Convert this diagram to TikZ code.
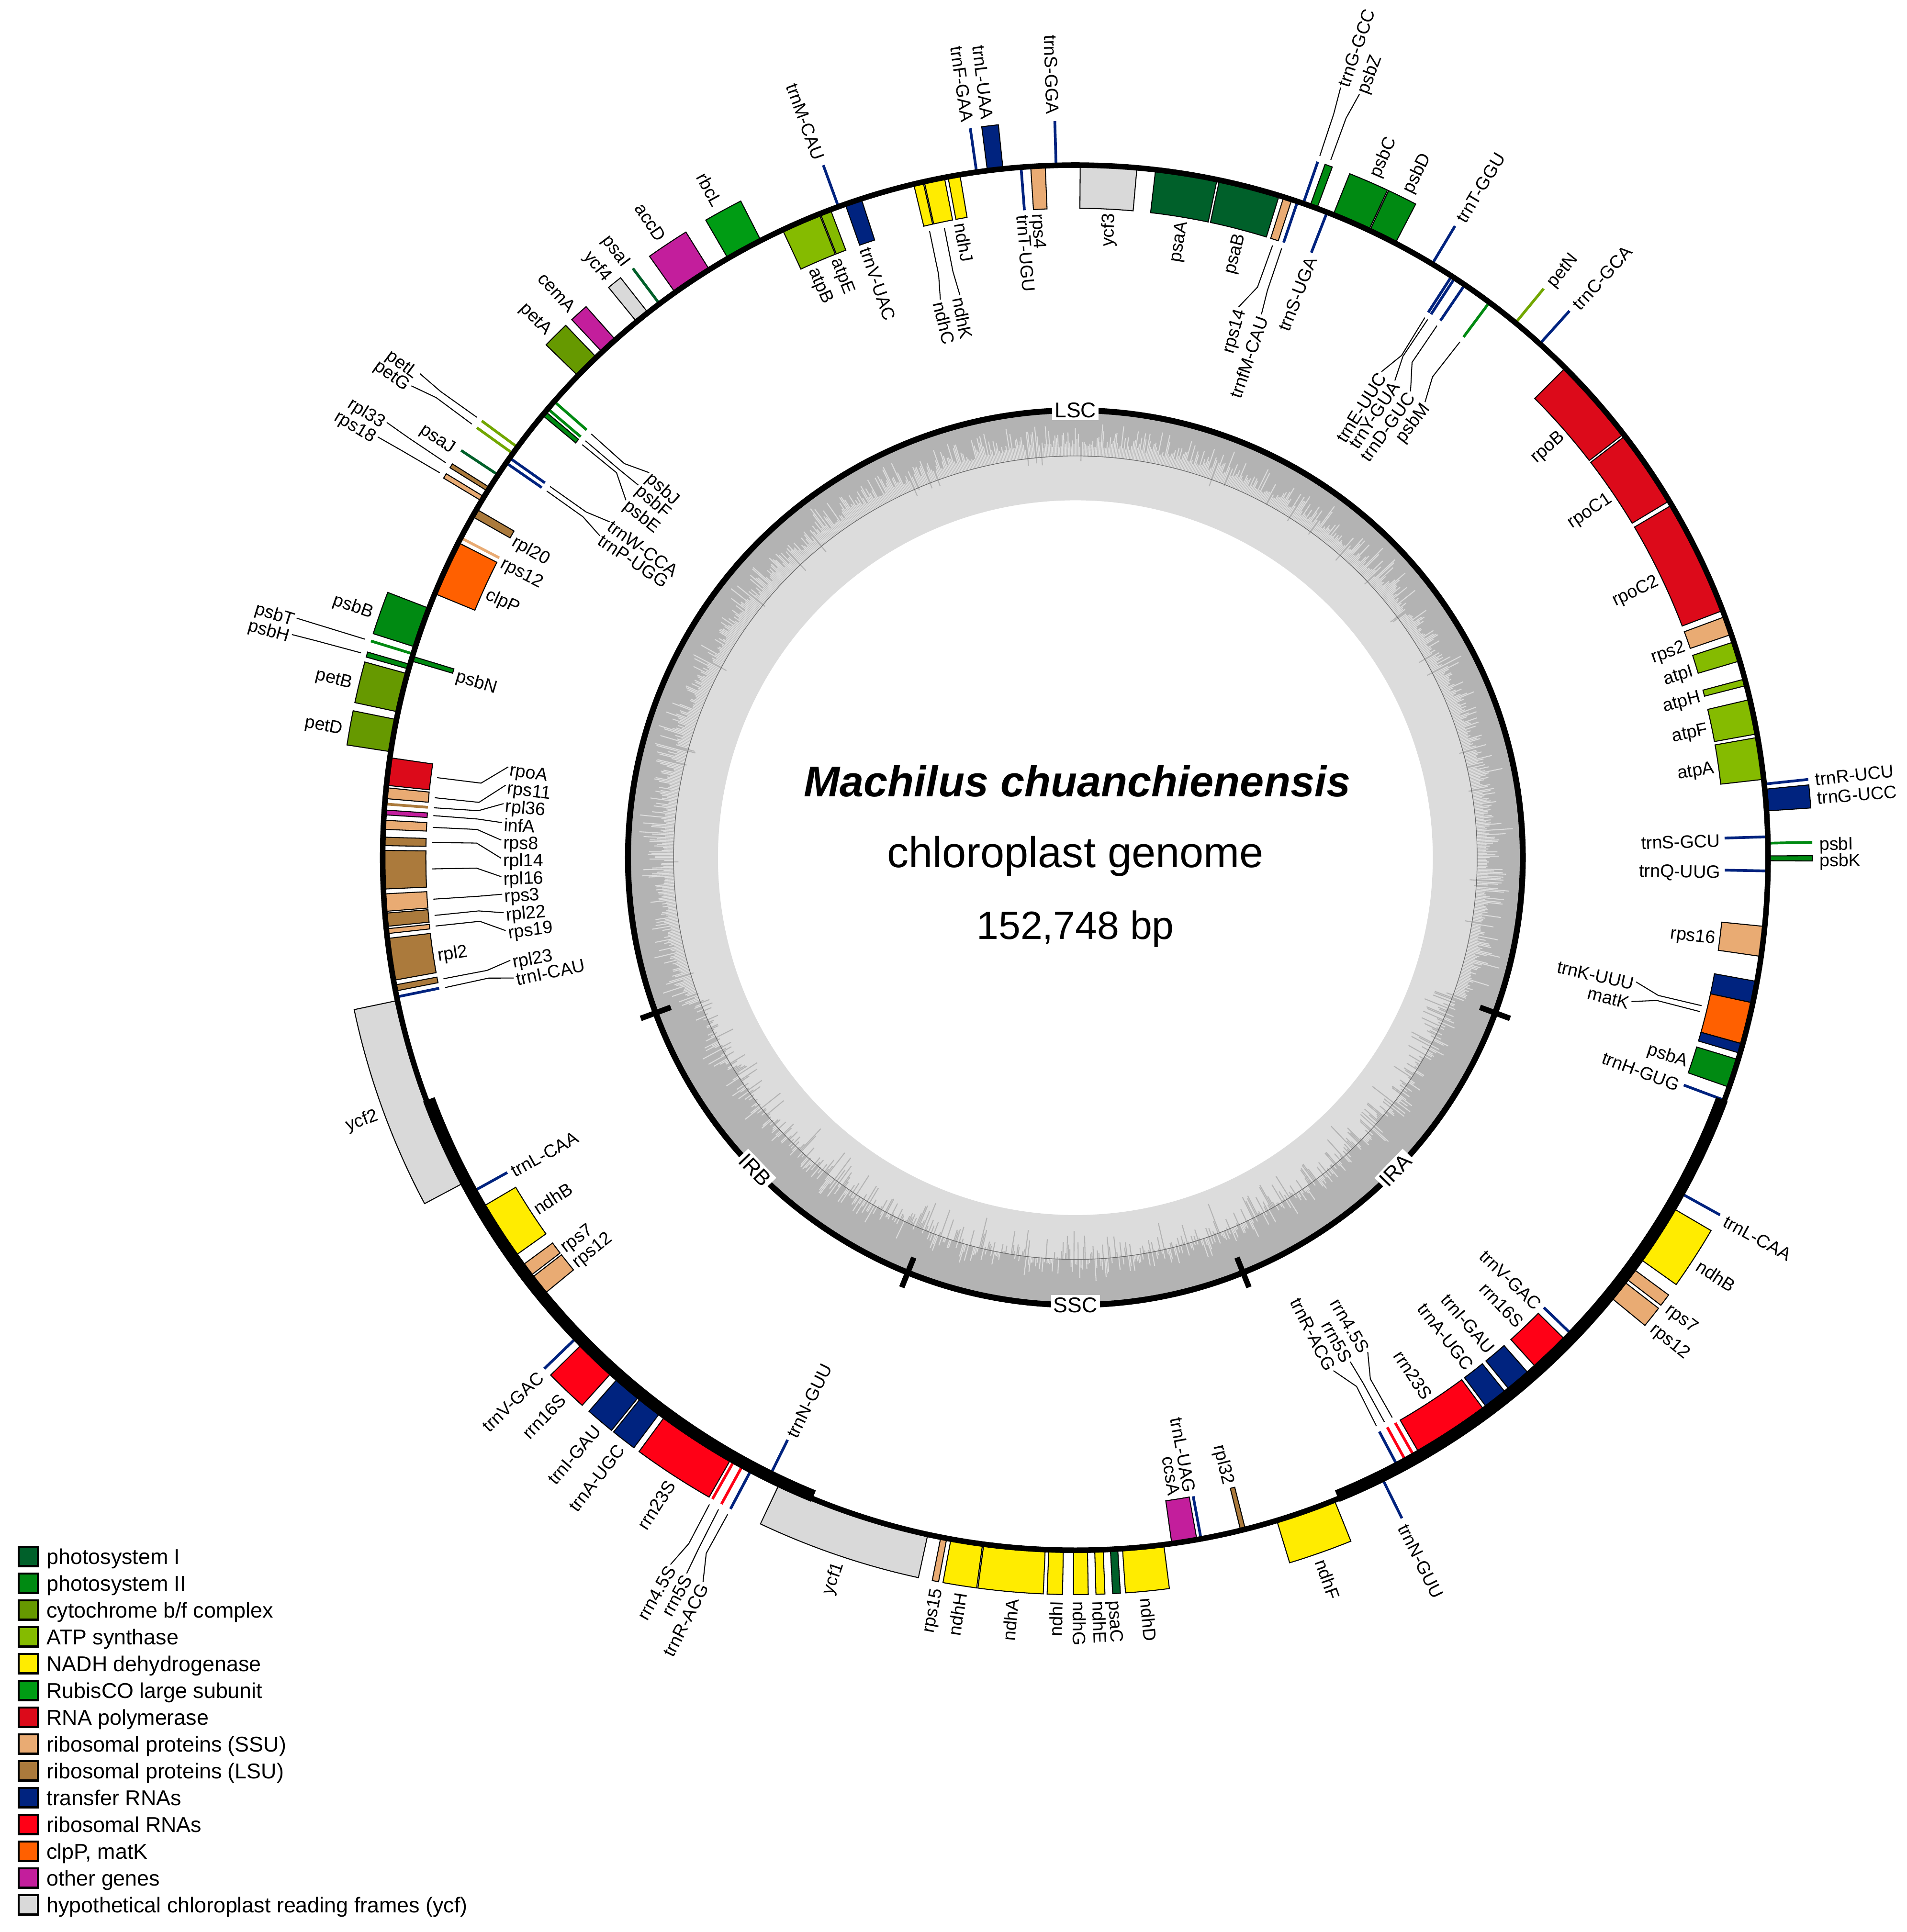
\documentclass[tikz,border=0pt]{standalone}
\usepackage{fontspec}
\setmainfont{Liberation Sans}
\usetikzlibrary{positioning}
\definecolor{psone}{HTML}{00602A}
\definecolor{pstwo}{HTML}{008A12}
\definecolor{cytbf}{HTML}{669900}
\definecolor{atps}{HTML}{85BB00}
\definecolor{ndh}{HTML}{FFEC00}
\definecolor{rbc}{HTML}{009C14}
\definecolor{rpo}{HTML}{DC0A1A}
\definecolor{ssu}{HTML}{E9AB73}
\definecolor{lsu}{HTML}{AB7A3C}
\definecolor{trna}{HTML}{00237F}
\definecolor{rrna}{HTML}{FF0016}
\definecolor{clp}{HTML}{FF6000}
\definecolor{other}{HTML}{C31E9C}
\definecolor{ycf}{HTML}{D9D9D9}
\definecolor{gcdark}{HTML}{B3B3B3}
\definecolor{gclight}{HTML}{DCDCDC}
\tikzset{
  genebox/.style={draw=black,line width=0.8pt,line join=miter},
  geneline/.style={line width=2.2pt},
  genelab/.style={font=\fontsize{14.6}{17}\selectfont,inner sep=1.5pt,text height=13.5pt,text depth=0pt},
  leaderline/.style={draw=black,line width=0.8pt},
  regionlab/.style={font=\fontsize{17.3}{20}\selectfont,fill=white,inner sep=2pt},
  regiontick/.style={line width=4.5pt},
  swatch/.style={draw=black,line width=1.7pt,minimum size=15.7pt,inner sep=0pt},
  legendlab/.style={font=\fontsize{17.4}{20}\selectfont,inner sep=0pt,text height=12.4pt,text depth=0pt}
}
\newcommand{\genearc}[4]{%
  \filldraw[genebox,fill=#4] (#1:562) arc[start angle=#1,end angle=#2,radius=562]
    -- (#2:#3) arc[start angle=#2,end angle=#1,radius=#3] -- cycle;}
\newcommand{\genelabel}[4]{%
  \pgfmathsetmacro{\genrot}{cos(#2)>0 ? #2 : #2+180}
  \pgfmathtruncatemacro{\genside}{(cos(#2)>0)==(#3>563)}
  \ifnum\genside=1 \def\labanc{west}\else\def\labanc{east}\fi
  \node[genelab,rotate=\genrot,anchor=\labanc] (#1) at (#2:#3) {#4};}
\begin{document}
\begin{tikzpicture}[x=1pt,y=1pt]
  \useasboundingbox (-872.5,696) rectangle (674.7,-871.8);
  \fill[white] (-872.5,696) rectangle (674.7,-871.8);
  \fill[gcdark,even odd rule] (0,0) circle[radius=363] (0,0) circle[radius=326];
  \fill[gclight,even odd rule] (0,0) circle[radius=326] (0,0) circle[radius=290];
  \pgfmathsetseed{41}
  \foreach \i in {0,...,1799}{
    \pgfmathsetmacro{\a}{\i*0.2}
    \pgfmathsetmacro{\u}{rnd}
    \pgfmathsetmacro{\v}{rnd}
    \pgfmathsetmacro{\w}{rnd}
    \pgfmathsetmacro{\s}{(\a>200 && \a<340) ? (\w<0.45 ? 3+\u*\v*16 : -\u*\v*28) : (\w<0.03 ? -\u*7 : 7+\u*\v*24)}
    \ifdim\s pt>0pt
      \draw[gclight,line width=0.8pt] (\a:326) -- (\a:326+\s);
    \else
      \draw[gcdark,line width=0.8pt] (\a:326) -- (\a:326+\s);
    \fi
  }
  \draw[black!60,line width=0.5pt] (0,0) circle[radius=326];
  \draw[line width=4.8pt] (0,0) circle[radius=363];
  \foreach \a in {-20.3,-68,200.3,248}{
    \draw[regiontick] (\a:350) -- (\a:376);
  }
  \node[regionlab] (lsc) at (90:363) {LSC};
  \node[regionlab] (ssc) at (-90:363) {SSC};
  \node[regionlab,rotate=46] (ira) at (-44.3:363) {IRA};
  \node[regionlab,rotate=-46] (irb) at (224.3:363) {IRB};

  \node[font=\fontsize{35}{40}\selectfont\bfseries\itshape] (species) at (1.5,62) {Machilus chuanchienensis};
  \node[font=\fontsize{35}{40}\selectfont] (genome) at (0,1) {chloroplast genome};
  \node[font=\fontsize{32}{38}\selectfont] (length) at (0,-58) {152,748 bp};

  % genes outside the ring
  \foreach \a/\b/\c in {96.0/97.3/trna,69.6/70.2/pstwo,64.95/68.15/pstwo,62.5/64.85/pstwo,
    3.87/5.67/trna,-0.25/0.15/pstwo,-35.4/-30.4/ndh,-37.4/-36.4/ssu,-39.4/-37.7/ssu,
    -73.1/-68.05/ndh,-86.1/-82.67/ndh,-87.1/-86.5/psone,-88.4/-87.7/ndh,-90.15/-89.0/ndh,
    -92.2/-91.0/ndh,-97.6/-92.5/ndh,-100.35/-97.7/ndh,-101.2/-100.7/ssu,-115.3/-102.3/ycf,
    233.7/240.2/rrna,231.2/233.2/trna,228.7/231.0/trna,224.6/228.0/rrna,191.9/208.0/ycf,
    163.8/164.2/pstwo,164.6/167.85/cytbf,168.5/171.2/cytbf,158.9/162.3/pstwo,
    147.7/148.05/lsu,148.6/149.0/ssu,133.75/135.9/cytbf,131.6/133.1/other,128.1/129.3/ycf,
    121.9/125.3/other,117.0/120.1/rbc}{
    \genearc{\a}{\b}{598}{\c}
  }
  \foreach \a/\c in {98.2/trna,91.6/trna,70.8/trna,59/trna,50.55/cytbf!60!atps,47.9/trna,
    6.1/trna,1.2/pstwo,-29/trna,-63.7/trna,223.9/trna,240.5/rrna,241.3/rrna,242.1/trna,
    162.9/pstwo,146.45/psone,144.3/cytbf!60!atps,143.65/cytbf!60!atps,126.9/psone,110/trna}{
    \draw[geneline,\c] (\a:562) -- (\a:598);
  }

  % genes inside the ring
  \foreach \a/\b/\c in {102.7/103.5/ndh,100.9/102.6/ndh,99.6/100.6/ndh,92.5/93.7/ssu,
    84.9/89.6/ycf,78.2/83.35/psone,72.9/78.0/psone,71.8/72.5/ssu,37.7/45.0/rpo,31.0/37.5/rpo,
    20.9/30.6/rpo,18.8/20.36/ssu,16.5/18.15/atps,14.4/14.95/atps,10.3/13.2/atps,6.5/10.0/atps,
    -8.2/-5.7/ssu,-12.1/-10.3/trna,-15.6/-12.1/clp,-16.4/-15.6/trna,-19.35/-16.95/pstwo,
    -47.9/-44.55/rrna,-50.8/-48.7/trna,-53.2/-51.2/trna,-60.0/-53.5/rrna,-76.2/-75.8/lsu,
    -82.0/-79.9/other,210.5/215.4/ndh,216.4/217.5/ssu,217.7/219.4/ssu,190.6/191.1/lsu,
    186.7/190.2/lsu,185.9/186.3/ssu,184.6/185.7/lsu,183.0/184.45/ssu,179.4/182.6/lsu,
    178.3/179.0/lsu,176.9/177.65/ssu,176.05/176.45/other,174.2/175.1/ssu,171.7/174.0/rpo,
    152.95/157.6/clp,149.8/150.5/lsu,139.9/140.3/pstwo,163.1/163.5/pstwo,111.7/115/atps,
    110.7/111.6/atps,108.0/109.4/trna}{
    \genearc{\a}{\b}{527}{\c}
  }
  \foreach \a/\c in {94.5/trna,71.3/trna,68.7/trna,57.1/trna,56.8/trna,55.8/trna,53.3/pstwo,
    1.73/trna,-1.1/trna,-20.5/trna,-43.85/trna,-60.5/rrna,-61.3/rrna,-62.1/trna,
    -79.55/trna,243.7/trna,209/trna,191.6/trna,175.55/lsu,152.5/ssu,145.25/trna,144.75/trna,
    139.6/pstwo,138.8/pstwo}{
    \draw[geneline,\c] (\a:562) -- (\a:527);
  }

  \draw[line width=4.5pt] (0,0) circle[radius=562];
  \draw[line width=10pt] (-20.5:560) arc[start angle=-20.5,end angle=-67.7,radius=560];
  \draw[line width=10pt] (200.5:560) arc[start angle=200.5,end angle=247.7,radius=560];

  % labels next to their gene
  \foreach \t/\a [count=\i] in {trnF-GAA/98.2,trnL-UAA/96.65,trnS-GGA/91.6,psbC/66.5,psbD/63.7,
    trnT-GGU/59,petN/50.55,trnC-GCA/47.9,trnR-UCU/6.2,trnG-UCC/4.75,psbI/1.2,psbK/-0.05,
    trnL-CAA/-29,ndhB/-33,rps7/-37,rps12/-38.9,trnN-GUU/-63.7,ndhF/-70.6,ndhD/-84.4,
    psaC/-86.8,ndhE/-88.05,ndhG/-89.55,ndhI/-91.6,ndhA/-95,ndhH/-99,rps15/-100.95,ycf1/-108.8,
    rrn23S/236.95,trnA-UGC/232.2,trnI-GAU/229.85,rrn16S/226.3,trnV-GAC/223.9,ycf2/200,
    petD/169.8,petB/166.2,psbB/160.6,psaJ/146.45,petA/134.8,cemA/132.35,ycf4/128.7,psaI/126.9,
    accD/123.6,rbcL/118.55,trnM-CAU/110}{
    \genelabel{out\i}{\a}{602}{\t}
  }
  \foreach \t/\a [count=\i] in {ndhJ/100.1,trnT-UGU/94.5,rps4/93.1,ycf3/87.25,psaA/80.75,psaB/75.5,
    trnS-UGA/68.7,rpoB/41.3,rpoC1/34.3,rpoC2/25.75,rps2/19.4,atpI/17.1,atpH/14.7,atpF/11.75,
    atpA/8.25,trnS-GCU/1.7,trnQ-UUG/-1.1,rps16/-6.95,psbA/-18.2,trnH-GUG/-20.5,trnV-GAC/-43.95,
    rrn16S/-46.2,trnI-GAU/-49.7,trnA-UGC/-52.1,rrn23S/-56.7,rpl32/-76,trnL-UAG/-79.6,ccsA/-81,
    trnL-CAA/209,ndhB/212.95,rps7/217.1,rps12/218.8,trnN-GUU/243.7,rpl2/188.5,rpl20/150.3,
    rps12/152.5,clpP/155.6,psbN/163.4,atpB/113.7,atpE/111.5,trnV-UAC/108.8}{
    \genelabel{inn\i}{\a}{525}{\t}
  }

  % labels moved away from their gene
  \foreach \t/\a/\g/\e [count=\i] in {ndhC/103.6/103.1/103.2,ndhK/101.6/101.75/101.8,
    rps14/73.5/72.15/72.3,trnfM-CAU/71.1/71.3/71.3,trnE-UUC/57.8/57.1/57.0,trnY-GUA/56.2/56.8/56.85,
    trnD-GUC/54.3/55.8/55.8,psbM/52.5/53.3/53.4,trnK-UUU/-12.5/-13.3/-13.3,matK/-14.5/-13.85/-13.8,
    rrn4.5S/-59.4/-60.5/-60.5,rrn5S/-61.4/-61.3/-61.3,trnR-ACG/-63.3/-62.1/-62,
    rpoA/170.9/172.85/172.85,rps11/172.75/174.65/174.7,rpl36/174.6/175.55/175.5,infA/176.5/176.25/176.3,
    rps8/178.25/177.3/177.3,rpl14/180.05/178.65/178.6,rpl16/181.9/181/181,rps3/183.65/183.7/183.7,
    rpl22/185.5/185.15/185.1,rps19/187.3/186.1/186.1,rpl23/190.3/190.85/190.85,trnI-CAU/192.1/191.65/191.6,
    psbJ/137.9/138.8/138.85,psbF/139.55/139.6/139.6,psbE/141.5/140.05/140,trnW-CCA/144.2/144.75/144.75,
    trnP-UGG/145.9/145.25/145.3}{
    \genelabel{inl\i}{\a}{466}{\t}
    \coordinate (ing\i) at (\g:522);
    \coordinate (ine\i) at (\e:486);
    \draw[leaderline] (ing\i) -- (ine\i) -- (inl\i.\labanc);
  }
  \foreach \t/\a/\g/\e [count=\i] in {trnG-GCC/71/70.8/70.85,psbZ/69.6/69.9/69.9,
    rrn4.5S/240.2/240.5/240.6,rrn5S/241.5/241.3/241.4,trnR-ACG/242.8/242.1/242.05,
    petL/143.55/143.65/143.7,petG/144.6/144.3/144.25,rpl33/147.7/147.9/147.8,
    rps18/148.9/148.8/148.85,psbT/162.9/162.9/162.9,psbH/164.1/164.0/164.05}{
    \genelabel{oul\i}{\a}{661}{\t}
    \coordinate (oug\i) at (\g:603);
    \coordinate (oue\i) at (\e:639);
    \draw[leaderline] (oug\i) -- (oue\i) -- (oul\i.\labanc);
  }

  \foreach \c/\t [count=\i] in {psone/photosystem I,pstwo/photosystem II,cytbf/{cytochrome b/f complex},
    atps/ATP synthase,ndh/NADH dehydrogenase,rbc/RubisCO large subunit,rpo/RNA polymerase,
    ssu/ribosomal proteins (SSU),lsu/ribosomal proteins (LSU),trna/transfer RNAs,rrna/ribosomal RNAs,
    clp/{clpP, matK},other/other genes,ycf/hypothetical chloroplast reading frames (ycf)}{
    \node[swatch,fill=\c] (sw\i) at (-849.5,{-545.25-21.75*\i}) {};
    \node[legendlab,right=6pt of sw\i] (leg\i) {\t};
  }
\end{tikzpicture}
\end{document}
